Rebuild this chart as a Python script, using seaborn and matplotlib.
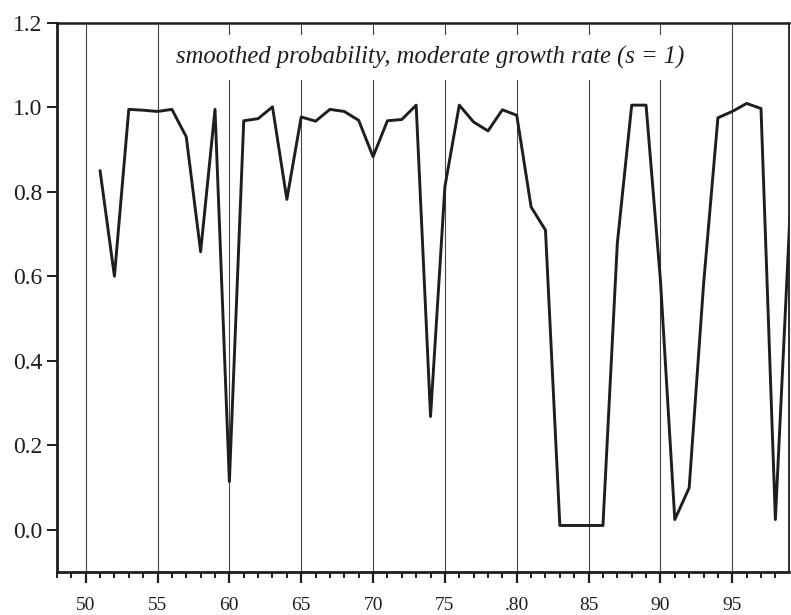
import matplotlib
matplotlib.use("Agg")
import matplotlib.pyplot as plt
import seaborn as sns
import pandas as pd
from matplotlib.ticker import MultipleLocator

years = list(range(51, 100))
probability = [
    0.85, 0.60, 0.995, 0.993, 0.99, 0.995, 0.93, 0.658, 0.995, 0.114,
    0.968, 0.973, 1.001, 0.782, 0.977, 0.967, 0.995, 0.99, 0.969, 0.883,
    0.968, 0.971, 1.005, 0.268, 0.812, 1.005, 0.965, 0.944, 0.994, 0.981,
    0.764, 0.709, 0.01, 0.01, 0.01, 0.01, 0.678, 1.005, 1.005, 0.591,
    0.024, 0.099, 0.58, 0.975, 0.99, 1.009, 0.997, 0.024, 0.733,
]
x_ticks = [50, 55, 60, 65, 70, 75, 80, 85, 90, 95]
x_tick_labels = ["50", "55", "60", "65", "70", "75", ".80", "85", "90", "95"]
y_ticks = [0.0, 0.2, 0.4, 0.6, 0.8, 1.0, 1.2]
y_tick_labels = ["0.0", "0.2", "0.4", "0.6", "0.8", "1.0", "1.2"]
title = "smoothed probability, moderate growth rate (s = 1)"

df = pd.DataFrame({"year": years, "prob": probability})

sns.set_style("white")
plt.rcParams["font.family"] = ["Liberation Serif", "DejaVu Serif"]

fig = plt.figure(figsize=(7.91, 6.15), dpi=100)
ax = fig.add_axes([0.072, 0.070, 0.9255, 0.893])

sns.lineplot(data=df, x="year", y="prob", ax=ax, color="#1e1e1e",
             linewidth=2.1, zorder=3)

ax.set_xlim(48.0, 98.95)
ax.set_ylim(-0.1, 1.2)
ax.set_xticks(x_ticks)
ax.set_xticklabels(x_tick_labels)
ax.set_yticks(y_ticks)
ax.set_yticklabels(y_tick_labels)
ax.xaxis.set_minor_locator(MultipleLocator(1))
ax.set_xlabel("")
ax.set_ylabel("")

ax.set_axisbelow(True)
ax.grid(True, axis="x", which="major", color="#444444", linewidth=0.8)
ax.grid(False, axis="y")

ax.tick_params(axis="x", which="major", direction="out", length=8, width=1.6,
               pad=10, labelsize=14, colors="#1e1e1e", bottom=True)
ax.tick_params(axis="x", which="minor", direction="out", length=4.5, width=1.4,
               colors="#1e1e1e", bottom=True)
ax.tick_params(axis="y", which="major", direction="out", length=7, width=1.4,
               pad=3.5, labelsize=17, colors="#1e1e1e", left=True)

for side in ["left", "bottom", "top", "right"]:
    ax.spines[side].set_visible(True)
    ax.spines[side].set_color("#1e1e1e")
    ax.spines[side].set_zorder(4)
ax.spines["left"].set_linewidth(2.0)
ax.spines["bottom"].set_linewidth(2.0)
ax.spines["top"].set_linewidth(1.8)
ax.spines["right"].set_linewidth(1.3)

ax.text(0.51, 0.937, title, transform=ax.transAxes, ha="center", va="center",
        fontsize=17.7, fontstyle="italic", color="#1e1e1e", zorder=2,
        bbox=dict(facecolor="white", edgecolor="none", pad=8))

fig.savefig("out.png", dpi=100)
